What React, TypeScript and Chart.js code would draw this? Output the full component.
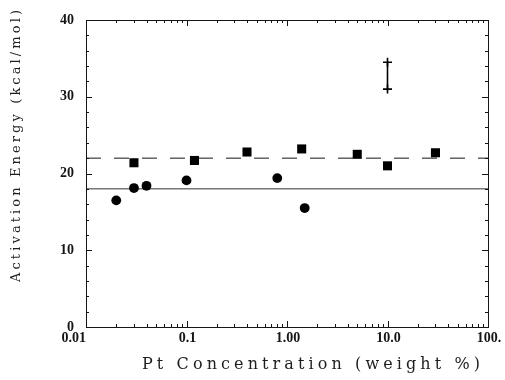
import React, { useEffect, useRef } from "react";
import { Chart, registerables } from "chart.js";

Chart.register(...registerables);

// ---- data ----
const circleX = [0.02, 0.03, 0.04, 0.1, 0.8, 1.5];
const circleY = [16.5, 18.1, 18.4, 19.1, 19.4, 15.5];
const squareX = [0.03, 0.12, 0.4, 1.4, 5, 10, 30];
const squareY = [21.4, 21.7, 22.8, 23.2, 22.5, 21.0, 22.7];
const errorX = [10, 10];
const errorY = [31, 34.5];
const dashedLevel = 22;
const solidLevel = 18;
const xRange = [0.01, 100];
const yRange = [0, 40];
const xTickValues = [0.01, 0.1, 1, 10, 100];
const xTickLabels = ["0.01", "0.1", "1.00", "10.0", "100."];
const yTickValues = [0, 10, 20, 30, 40];
const yTickLabels = ["0", "10", "20", "30", "40"];
const xTitle = "Pt Concentration (weight %)";
const yTitle = "Activation Energy (kcal/mol)";

const INK = "#151515";
const LABEL_FONT = "bold 14px 'Liberation Serif', serif";

function drawSpaced(ctx: CanvasRenderingContext2D, text: string, cx: number, cy: number, width: number) {
  (ctx as any).letterSpacing = "0px";
  const w0 = ctx.measureText(text).width;
  const sp = (width - w0) / (text.length - 1);
  (ctx as any).letterSpacing = sp + "px";
  ctx.textAlign = "left";
  ctx.textBaseline = "middle";
  ctx.fillText(text, cx - width / 2, cy);
  (ctx as any).letterSpacing = "0px";
}

const framePlugin = {
  id: "frameTicks",
  afterDraw(chart: any) {
    const { ctx, chartArea: a, scales } = chart;
    const xs = scales.x;
    const ys = scales.y;
    ctx.save();
    ctx.strokeStyle = INK;
    ctx.lineWidth = 1;
    ctx.strokeRect(a.left + 0.5, a.top + 0.5, a.right - a.left, a.bottom - a.top);

    // x ticks (log decades with minor 2..9)
    const e0 = Math.round(Math.log10(xRange[0]));
    const e1 = Math.round(Math.log10(xRange[1]));
    ctx.beginPath();
    for (let e = e0; e <= e1; e++) {
      for (let m = 1; m <= 9; m++) {
        const v = m * Math.pow(10, e);
        if (v > xRange[1] * 1.0001) break;
        const px = Math.round(xs.getPixelForValue(v)) + 0.5;
        const len = m === 1 ? 6 : 3;
        ctx.moveTo(px, a.bottom);
        ctx.lineTo(px, a.bottom - len);
        ctx.moveTo(px, a.top);
        ctx.lineTo(px, a.top + len);
      }
    }
    // y ticks
    for (const t of ys.ticks) {
      const py = Math.round(ys.getPixelForValue(t.value)) + 0.5;
      const len = t.value % 10 === 0 ? 6 : 3;
      ctx.moveTo(a.left, py);
      ctx.lineTo(a.left + len, py);
      ctx.moveTo(a.right, py);
      ctx.lineTo(a.right - len, py);
    }
    ctx.stroke();

    // x tick labels
    ctx.fillStyle = INK;
    ctx.font = LABEL_FONT;
    ctx.textBaseline = "middle";
    xTickValues.forEach((v, i) => {
      const px = xs.getPixelForValue(v);
      if (i === 0) {
        ctx.textAlign = "right";
        ctx.fillText(xTickLabels[i], px, a.bottom + 11);
      } else {
        ctx.textAlign = "center";
        ctx.fillText(xTickLabels[i], px + 1, a.bottom + 11);
      }
    });

    // axis titles
    ctx.fillStyle = "#1e1e1e";
    ctx.font = "16px 'DejaVu Serif', serif";
    drawSpaced(ctx, xTitle, 311, 365, 338);
    ctx.save();
    ctx.translate(17, 146);
    ctx.rotate(-Math.PI / 2);
    ctx.font = "13px 'DejaVu Serif', serif";
    drawSpaced(ctx, yTitle, 0, 0, 272);
    ctx.restore();
    ctx.restore();
  },
};

export default function App() {
  const ref = useRef<HTMLCanvasElement | null>(null);
  useEffect(() => {
    document.body.style.margin = "0";
    const canvas = ref.current;
    if (!canvas) return;
    const chart = new Chart(canvas, {
      type: "scatter",
      data: {
        datasets: [
          {
            label: "squares",
            data: squareX.map((x, i) => ({ x, y: squareY[i] })),
            pointStyle: "rect",
            pointRadius: 6.4,
            pointHoverRadius: 6.4,
            backgroundColor: "#000",
            borderColor: "#000",
            pointBorderWidth: 0,
          },
          {
            label: "circles",
            data: circleX.map((x, i) => ({ x, y: circleY[i] })),
            pointStyle: "circle",
            pointRadius: 4.9,
            pointHoverRadius: 4.9,
            backgroundColor: "#000",
            borderColor: "#000",
            pointBorderWidth: 0,
          },
          {
            label: "error",
            data: errorX.map((x, i) => ({ x, y: errorY[i] })),
            showLine: true,
            pointStyle: "cross",
            pointRadius: 4.5,
            pointBorderWidth: 1.6,
            borderWidth: 1.6,
            borderColor: "#000",
            backgroundColor: "#000",
          },
          {
            label: "dashed",
            data: xRange.map((x) => ({ x, y: dashedLevel })),
            showLine: true,
            pointRadius: 0,
            borderWidth: 1,
            borderDash: [15, 13],
            borderColor: INK,
          },
          {
            label: "solid",
            data: xRange.map((x) => ({ x, y: solidLevel })),
            showLine: true,
            pointRadius: 0,
            borderWidth: 1,
            borderColor: "#333",
          },
        ],
      },
      options: {
        responsive: false,
        animation: false,
        devicePixelRatio: 1,
        layout: { padding: { top: 20, right: 17, left: 0, bottom: 0 } },
        plugins: { legend: { display: false }, tooltip: { enabled: false } },
        events: [],
        scales: {
          x: {
            type: "logarithmic",
            position: "bottom",
            min: xRange[0],
            max: xRange[1],
            grid: { display: false },
            border: { display: false },
            ticks: { display: false },
            afterFit: (s: any) => {
              s.height = 53;
            },
          },
          y: {
            type: "linear",
            min: yRange[0],
            max: yRange[1],
            grid: { display: false },
            border: { display: false },
            ticks: {
              stepSize: 2,
              autoSkip: false,
              padding: 4,
              color: INK,
              font: { family: "'Liberation Serif', serif", size: 14, weight: "bold" },
              callback: (v: any) => {
                const i = yTickValues.indexOf(Number(v));
                return i >= 0 ? yTickLabels[i] : "";
              },
            },
            afterFit: (s: any) => {
              s.width = 86;
            },
          },
        },
      },
      plugins: [framePlugin],
    } as any);
    return () => chart.destroy();
  }, []);
  return (
    <canvas
      ref={ref}
      width={505}
      height={380}
      style={{ display: "block", width: 505, height: 380, background: "#fff" }}
    />
  );
}
